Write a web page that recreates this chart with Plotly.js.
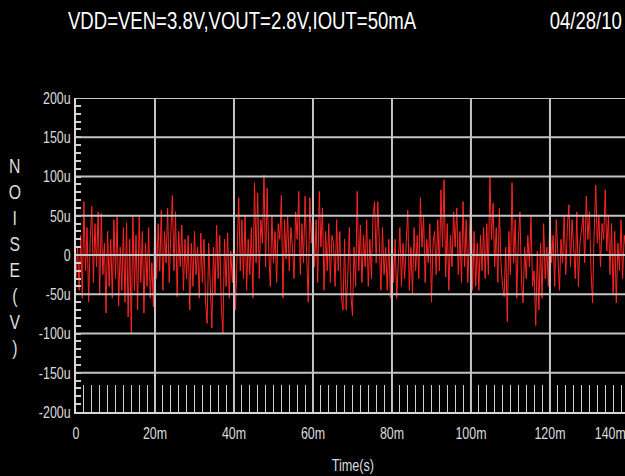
<!DOCTYPE html>
<html>
<head>
<meta charset="utf-8">
<script src="https://cdn.plot.ly/plotly-3.0.1.min.js"></script>
<style>
html,body{margin:0;padding:0;background:#000;overflow:hidden;width:625px;height:476px;}
#chart{width:640px;height:476px;}
</style>
</head>
<body>
<div id="chart"></div>
<script>
// Chart text
const chartTitle = "VDD=VEN=3.8V,VOUT=2.8V,IOUT=50mA";
const chartDate = "04/28/10";
const yLabelLetters = ["N","O","I","S","E","(","V",")"];
const xLabel = "Time(s)";

// Axis ticks (time in ms, noise in uV)
const xTickVals = [0, 20, 40, 60, 80, 100, 120];
const xTickText = ["0", "20m", "40m", "60m", "80m", "100m", "120m"];
const xLastTickText = "140m";
const yTickVals = [-200, -150, -100, -50, 0, 50, 100, 150, 200];
const yTickText = ["-200u", "-150u", "-100u", "-50u", "0", "50u", "100u", "150u", "200u"];

// Sampling step of the noise record, ms
const sampleStepMs = 0.4;

// Noise values in uV (one every 0.4 ms from 0 ms)
const noiseUV = [
  -30, 10, -45, 25, -55, 68, -20, 35, -60, 20,
  62, -35, 40, -15, 55, -50, 53, -25, 15, -74,
  30, -40, 20, -55, 45, -30, 49, -65, 10, -45,
  35, -60, 41, -79, 20, -100, 50, -45, 25, -70,
  50, -35, 30, -74, 15, -40, 35, -55, -10, -66,
  73, -30, 40, -20, 57, -45, 30, -10, 60, -35,
  25, 76, -20, 55, -53, 30, -15, 38, -45, 20,
  -30, 25, -70, 15, -40, 30, -25, 10, -55, 28,
  -35, 20, -60, -87, 15, -45, -93, 10, -50, 38,
  -30, 25, -65, -100, 20, -40, 28, -55, 5, -35,
  30, -70, 15, 73, -20, 45, -30, 50, -45, 20,
  -25, 35, -55, 92, -10, 79, -30, 45, 15, 102,
  -15, 85, 5, -40, 50, -10, 30, -35, 40, 20,
  76, -55, 45, -5, 50, -20, 35, 10, -30, 55,
  20, 81, -25, 40, -10, 75, 0, -60, 73, 15,
  60, -15, 45, -35, 81, 10, 60, -45, 30, -20,
  40, -35, 25, 15, -40, 45, -20, 30, -55, -70,
  20, -70, -30, 35, -50, -77, 10, -40, 81, -20,
  38, -35, 25, -15, 45, -40, 20, -30, 50, 68,
  -10, 68, 15, -45, 35, -25, 10, -45, 20, -55,
  30, -35, 20, -55, -10, 35, -40, 15, -30, 25,
  57, -45, 10, -50, 35, -20, 25, -30, 73, 10,
  50, -35, 20, -10, 40, -60, 15, 30, -25, 45,
  -20, 83, 10, 96, -28, 40, -45, 25, -15, 55,
  10, 60, -25, 30, -35, 68, -15, 45, -35, 20,
  89, -45, 30, -40, 15, -45, 25, -20, 35, -30,
  40, -25, 100, 20, 66, -15, 35, -35, 60, -10,
  -40, -53, 10, -85, 30, -25, 92, -10, 45, -55,
  20, 55, -35, -61, 10, -30, 25, -15, 50, -40,
  -20, -90, 5, -70, 15, -55, 40, -30, 10, -40,
  66, -10, 25, -40, 45, 0, -45, 20, -10, 50,
  -25, 35, 64, -15, 45, 10, -30, 55, -40, 15,
  30, 50, -10, 75, 20, 55, -20, -61, 30, 89,
  15, 50, -15, 40, 20, 83, 5, 50, -25, 40,
  -49, 30, -61, 15, -20, 45, -30, 25, 10, -35,
  20, -25, 35, -15, 30
];
const timeMs = noiseUV.map((_, i) => i * sampleStepMs);

const textFont = "Liberation Sans, Arial, sans-serif";
const headScale = 0.79;   // horizontal squeeze for title/date/labels (Arial-Narrow look)
const tickScale = 0.73;   // horizontal squeeze for tick labels
const gridColor = "#c4c4c4";
const labelColor = "#dcdcdc";

const shapes = [];
yTickVals.filter(v => v > yTickVals[0]).forEach(v => shapes.push({
  type: "line", xref: "paper", yref: "y", x0: 0, x1: 1, y0: v, y1: v,
  line: {color: gridColor, width: 2}, layer: "above"
}));
xTickVals.filter(v => v > xTickVals[0]).forEach(v => shapes.push({
  type: "line", xref: "x", yref: "paper", x0: v, x1: v, y0: 0, y1: 1,
  line: {color: gridColor, width: 2}, layer: "above"
}));

const trace = {
  x: timeMs, y: noiseUV, type: "scatter", mode: "lines",
  line: {color: "#ff2424", width: 1}, hoverinfo: "skip"
};

const layout = {
  width: 640, height: 476,
  margin: {l: 76, r: 0, t: 98, b: 64, pad: 0},
  paper_bgcolor: "#000", plot_bgcolor: "#000",
  showlegend: false,
  title: {
    text: chartTitle, x: 68 / 640, xanchor: "left", xref: "container",
    y: 1 - 21 / 476, yanchor: "middle", yref: "container",
    font: {family: textFont, size: 23.5, color: "#ffffff"}
  },
  xaxis: {
    range: [0, 142.8], tickmode: "array", tickvals: xTickVals, ticktext: xTickText,
    showgrid: false, zeroline: false,
    showline: true, linecolor: "#d8d8d8", linewidth: 2,
    ticks: "inside", ticklen: 27, tickcolor: "#d8d8d8", tickwidth: 1,
    minor: {dtick: 2, tick0: 0, ticks: "inside", ticklen: 27, tickcolor: "#d0d0d0", tickwidth: 1, showgrid: false},
    tickfont: {family: textFont, size: 17, color: labelColor},
    ticklabelstandoff: 5,
    layer: "above traces", fixedrange: true
  },
  yaxis: {
    range: [-200, 200], tickmode: "array", tickvals: yTickVals, ticktext: yTickText,
    showgrid: false, zeroline: false,
    showline: true, linecolor: "#d8d8d8", linewidth: 2,
    ticks: "inside", ticklen: 5, tickcolor: "#d0d0d0", tickwidth: 2,
    minor: {dtick: 10, tick0: 0, ticks: "inside", ticklen: 5, tickcolor: "#d0d0d0", tickwidth: 2, showgrid: false},
    tickfont: {family: textFont, size: 17, color: labelColor},
    layer: "above traces", fixedrange: true
  },
  shapes: shapes,
  annotations: [
    {text: chartDate, xref: "x", yref: "paper", x: 129.1, y: (412 - 21) / 314,
     xanchor: "center", yanchor: "middle", showarrow: false,
     font: {family: textFont, size: 23.5, color: "#ffffff"}},
    {text: yLabelLetters.join("<br>"), xref: "paper", yref: "paper",
     x: (15 - 76) / 564, y: (412 - 257) / 314, xanchor: "center", yanchor: "middle",
     showarrow: false, align: "center",
     font: {family: textFont, size: 20, color: labelColor}},
    {text: xLabel, xref: "x", yref: "paper", x: 70.1, y: (412 - 465) / 314,
     xanchor: "center", yanchor: "middle", showarrow: false,
     font: {family: textFont, size: 16, color: labelColor}},
    {text: xLastTickText, xref: "x", yref: "paper", x: 135.4, y: (412 - 433) / 314,
     xanchor: "center", yanchor: "middle", showarrow: false, ticklabel: true,
     font: {family: textFont, size: 17, color: labelColor}}
  ]
};

function squeeze(el, s) {
  const x = parseFloat(el.getAttribute("x")) || 0;
  const y = parseFloat(el.getAttribute("y")) || 0;
  const tr = el.getAttribute("transform") || "";
  el.setAttribute("transform",
    tr + " translate(" + x + "," + y + ") scale(" + s + ",1) translate(" + (-x) + "," + (-y) + ")");
}

function narrowTexts(gd) {
  gd.querySelectorAll(".xtick text, .ytick text").forEach(t => squeeze(t, tickScale));
  gd.querySelectorAll(".gtitle").forEach(t => squeeze(t, headScale));
  const ann = gd.querySelectorAll(".annotation-text");
  ann.forEach((t, i) => squeeze(t, i === 3 ? tickScale : headScale));
}

Plotly.newPlot("chart", [trace], layout, {staticPlot: true, displayModeBar: false})
  .then(gd => narrowTexts(gd));
</script>
</body>
</html>
